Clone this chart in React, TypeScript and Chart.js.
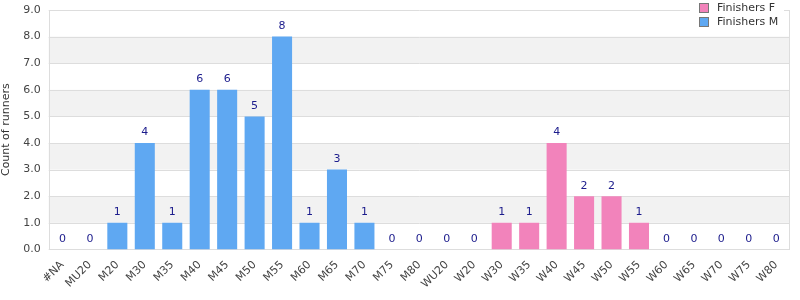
import React, { useEffect, useRef } from "react";
import { Chart, registerables } from "chart.js";

Chart.register(...registerables);

const categories = ["#NA","MU20","M20","M30","M35","M40","M45","M50","M55","M60","M65","M70","M75","M80","WU20","W20","W30","W35","W40","W45","W50","W55","W60","W65","W70","W75","W80"];
const finishersM = [0,0,1,4,1,6,6,5,8,1,3,1,0,0,0,0,null,null,null,null,null,null,null,null,null,null,null];
const finishersF = [null,null,null,null,null,null,null,null,null,null,null,null,null,null,null,null,1,1,4,2,2,1,0,0,0,0,0];
const yTicks = [0,1,2,3,4,5,6,7,8,9];

const COLOR_M = "#5fa8f2";
const COLOR_F = "#f283bb";
const FONT = "'DejaVu Sans', sans-serif";

const bandsPlugin = {
  id: "bands",
  beforeDatasetsDraw(chart: any) {
    const { ctx, chartArea, scales } = chart;
    const y = scales.y;
    ctx.save();
    ctx.fillStyle = "#f2f2f2";
    for (let v = 1; v < 9; v += 2) {
      const top = y.getPixelForValue(v + 1);
      const bot = y.getPixelForValue(v);
      ctx.fillRect(chartArea.left, top, chartArea.right - chartArea.left, bot - top);
    }
    ctx.strokeStyle = "#dddddd";
    ctx.lineWidth = 1;
    for (const v of yTicks) {
      const py = Math.round(y.getPixelForValue(v)) + 0.5;
      ctx.beginPath();
      ctx.moveTo(chartArea.left, py);
      ctx.lineTo(chartArea.right, py);
      ctx.stroke();
    }
    ctx.beginPath();
    ctx.moveTo(Math.round(chartArea.left) + 0.5, chartArea.top);
    ctx.lineTo(Math.round(chartArea.left) + 0.5, chartArea.bottom);
    ctx.moveTo(Math.round(chartArea.right) - 0.5, chartArea.top);
    ctx.lineTo(Math.round(chartArea.right) - 0.5, chartArea.bottom);
    ctx.stroke();
    ctx.restore();
  },
};

const labelsPlugin = {
  id: "valueLabels",
  afterDatasetsDraw(chart: any) {
    const { ctx } = chart;
    ctx.save();
    ctx.font = `11px ${FONT}`;
    ctx.fillStyle = "#1c1c8c";
    ctx.textAlign = "center";
    ctx.textBaseline = "bottom";
    chart.data.datasets.forEach((ds: any, di: number) => {
      const meta = chart.getDatasetMeta(di);
      meta.data.forEach((el: any, i: number) => {
        const v = ds.data[i];
        if (v === null || v === undefined) return;
        ctx.fillText(String(v), el.x, el.y - 5);
      });
    });
    ctx.restore();
  },
};

const legendPlugin = {
  id: "floatLegend",
  afterDraw(chart: any) {
    const { ctx } = chart;
    ctx.save();
    ctx.fillStyle = "#ffffff";
    ctx.fillRect(690, 0, 94, 31);
    const items = [
      { label: "Finishers F", color: COLOR_F },
      { label: "Finishers M", color: COLOR_M },
    ];
    ctx.font = `11px ${FONT}`;
    ctx.textBaseline = "middle";
    ctx.textAlign = "left";
    items.forEach((it, i) => {
      const cy = 8 + i * 14;
      ctx.fillStyle = it.color;
      ctx.fillRect(699.5, cy - 4.5, 9, 9);
      ctx.strokeStyle = "#777777";
      ctx.lineWidth = 1;
      ctx.strokeRect(699.5, cy - 4.5, 9, 9);
      ctx.fillStyle = "#333333";
      ctx.fillText(it.label, 717, cy);
    });
    ctx.restore();
  },
};

export default function App() {
  const ref = useRef<HTMLCanvasElement>(null);
  useEffect(() => {
    if (!ref.current) return;
    const chart = new Chart(ref.current, {
      type: "bar",
      data: {
        labels: categories,
        datasets: [
          { label: "Finishers M", data: finishersM as any, backgroundColor: COLOR_M, categoryPercentage: 1, barPercentage: 0.73 },
          { label: "Finishers F", data: finishersF as any, backgroundColor: COLOR_F, categoryPercentage: 1, barPercentage: 0.73 },
        ],
      },
      options: {
        animation: false,
        responsive: false,
        maintainAspectRatio: false,
        layout: { padding: { left: 0, right: 10, top: 10, bottom: 0 } },
        plugins: { legend: { display: false }, tooltip: { enabled: false } },
        scales: {
          x: {
            stacked: true,
            grid: { display: false, drawTicks: false },
            border: { display: false },
            ticks: {
              color: "#444444",
              font: { family: FONT, size: 11 },
              maxRotation: 45,
              minRotation: 45,
              autoSkip: false,
              padding: 9,
            },
          },
          y: {
            stacked: true,
            min: 0,
            max: 9,
            grid: { display: false, drawTicks: false },
            border: { display: false },
            afterBuildTicks: (axis: any) => {
              axis.ticks = yTicks.map((v) => ({ value: v }));
            },
            afterFit: (axis: any) => {
              axis.paddingTop = 0;
              axis.paddingBottom = 0;
            },
            ticks: {
              color: "#444444",
              font: { family: FONT, size: 11 },
              padding: 8,
              callback: (v: any) => Number(v).toFixed(1),
            },
            title: {
              display: true,
              text: "Count of runners",
              color: "#333333",
              font: { family: FONT, size: 11 },
              padding: { top: 0, bottom: 2 },
            },
          },
        },
      },
      plugins: [bandsPlugin, labelsPlugin, legendPlugin],
    });
    return () => chart.destroy();
  }, []);
  return (
    <div style={{ position: "fixed", left: 0, top: 0, width: 800, height: 300, background: "#fff" }}>
      <canvas ref={ref} width={800} height={300} style={{ width: 800, height: 300 }} />
    </div>
  );
}
